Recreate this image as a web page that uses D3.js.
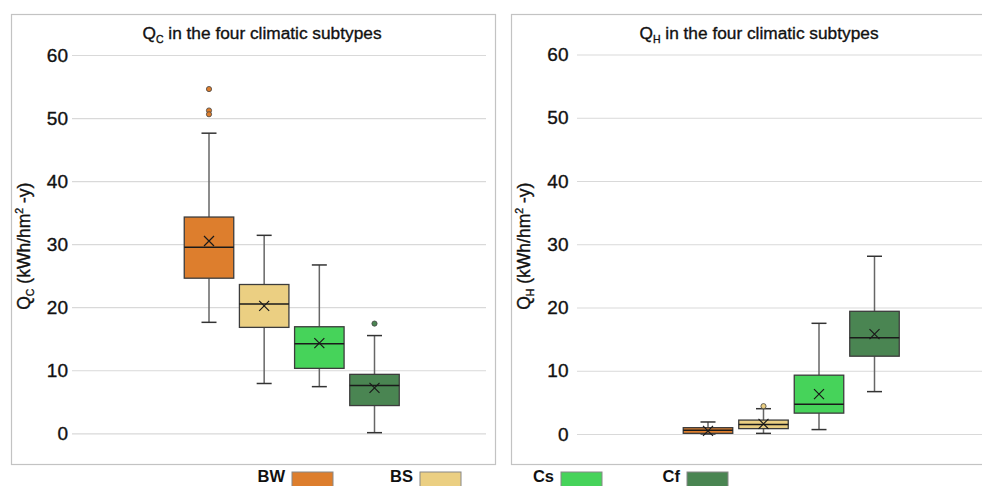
<!DOCTYPE html>
<html>
<head>
<meta charset="utf-8">
<script src="https://cdn.jsdelivr.net/npm/d3@7/dist/d3.min.js"></script>
<style>
  html, body { margin: 0; padding: 0; background: #fff; }
  svg { display: block; font-family: "Liberation Sans", Arial, Helvetica, sans-serif; }
</style>
</head>
<body>
<svg id="chart" width="982" height="486"></svg>
<script>
// ---------------- DATA ----------------
const categories = ["BW", "BS", "Cs", "Cf"];
const seriesColors = ["#DD7E2D", "#EBCF82", "#46D35A", "#4A8552"];
const yTicks = [0, 10, 20, 30, 40, 50, 60];

// Q_C (cooling) statistics per climatic subtype
const qcWhiskerLow  = [17.6,  7.9,  7.4,  0.1];
const qcQ1          = [24.6, 16.8, 10.3,  4.4];
const qcMedian      = [29.5, 20.5, 14.2,  7.6];
const qcQ3          = [34.3, 23.6, 16.9,  9.35];
const qcWhiskerHigh = [47.6, 31.4, 26.7, 15.5];
const qcMean        = [30.5, 20.2, 14.3,  7.2];
const qcOutliers    = [[54.6, 51.2, 50.6], [], [], [17.4]];

// Q_H (heating) statistics per climatic subtype
const qhWhiskerLow  = [0.0, 0.1,  0.7,  6.7];
const qhQ1          = [0.1, 0.85, 3.3, 12.3];
const qhMedian      = [0.6, 1.5,  4.7, 15.2];
const qhQ3          = [1.0, 2.2,  9.3, 19.4];
const qhWhiskerHigh = [1.9, 4.0, 17.5, 28.1];
const qhMean        = [0.5, 1.6,  6.3, 15.8];
const qhOutliers    = [[], [4.4], [], []];

// ---------------- DRAWING ----------------
const svg = d3.select("#chart");

function buildStats(lo, q1, med, q3, hi, mean, out) {
  return categories.map((c, i) => ({
    cat: c, color: seriesColors[i],
    lo: lo[i], q1: q1[i], med: med[i], q3: q3[i], hi: hi[i], mean: mean[i], out: out[i]
  }));
}

function heavy(sel) {
  return sel.attr("stroke", "#111").attr("stroke-width", 0.35).attr("paint-order", "stroke");
}

function drawPanel(opts) {
  const g = svg.append("g");
  // panel border
  g.append("rect")
    .attr("x", opts.frameX + 0.5).attr("y", 14.5)
    .attr("width", 484).attr("height", 450)
    .attr("fill", "none").attr("stroke", "#c3c3c3").attr("stroke-width", 1.2);

  const y = d3.scaleLinear().domain([0, 60]).range([opts.y0, opts.y60]);
  const x = d3.scalePoint().domain(categories).range([opts.xFirst, opts.xLast]);
  const boxW = 49.5, capW = 15;

  // axis + gridlines
  const axis = d3.axisLeft(y).tickValues(yTicks)
    .tickSize(-(opts.gridRight - opts.gridLeft)).tickPadding(opts.tickPad);
  const ag = g.append("g").attr("transform", `translate(${opts.gridLeft},0)`).call(axis);
  ag.select(".domain").remove();
  ag.selectAll(".tick line").attr("stroke", "#d9d9d9").attr("stroke-width", 1.2);
  heavy(ag.selectAll(".tick text")
    .attr("font-size", 19).attr("fill", "#111")
    .attr("font-family", "'Liberation Sans', Arial, sans-serif"));

  // title
  const t = heavy(g.append("text")
    .attr("x", opts.titleX).attr("y", 38.5)
    .attr("text-anchor", "middle").attr("font-size", 17.3).attr("fill", "#111"));
  t.append("tspan").text("Q");
  t.append("tspan").attr("font-size", 10.5).attr("dy", 4).text(opts.sub);
  t.append("tspan").attr("dy", -4).text(" in the four climatic subtypes");

  // y label
  const yl = heavy(g.append("text")
    .attr("transform", `translate(${opts.frameX + 19},${(opts.y0 + opts.y60) / 2 + 2}) rotate(-90)`)
    .attr("text-anchor", "middle").attr("font-size", 17.5).attr("fill", "#111"));
  yl.append("tspan").text("Q");
  yl.append("tspan").attr("font-size", 10.5).attr("dy", 4).text(opts.sub);
  yl.append("tspan").attr("dy", -4).text(" (kWh/hm");
  yl.append("tspan").attr("font-size", 10.5).attr("dy", -7).text("2");
  yl.append("tspan").attr("dy", 7).text(" -y)");

  const boxes = g.selectAll(".box").data(opts.stats).join("g")
    .attr("transform", d => `translate(${x(d.cat)},0)`);

  // whiskers
  boxes.append("line").attr("x1", 0).attr("x2", 0)
    .attr("y1", d => y(d.hi)).attr("y2", d => y(d.q3))
    .attr("stroke", "#666").attr("stroke-width", 1.5);
  boxes.append("line").attr("x1", 0).attr("x2", 0)
    .attr("y1", d => y(d.q1)).attr("y2", d => y(d.lo))
    .attr("stroke", "#666").attr("stroke-width", 1.5);
  boxes.append("line").attr("x1", -capW / 2).attr("x2", capW / 2)
    .attr("y1", d => y(d.hi)).attr("y2", d => y(d.hi))
    .attr("stroke", "#333").attr("stroke-width", 1.5);
  boxes.append("line").attr("x1", -capW / 2).attr("x2", capW / 2)
    .attr("y1", d => y(d.lo)).attr("y2", d => y(d.lo))
    .attr("stroke", "#333").attr("stroke-width", 1.5);

  // box
  boxes.append("rect")
    .attr("x", -boxW / 2).attr("width", boxW)
    .attr("y", d => y(d.q3)).attr("height", d => y(d.q1) - y(d.q3))
    .attr("fill", d => d.color).attr("stroke", "#3c3c3c").attr("stroke-width", 1.3);
  // median
  boxes.append("line").attr("x1", -boxW / 2).attr("x2", boxW / 2)
    .attr("y1", d => y(d.med)).attr("y2", d => y(d.med))
    .attr("stroke", "#1a1a1a").attr("stroke-width", 1.5);
  // mean X
  const m = 5;
  boxes.append("path")
    .attr("d", d => `M${-m},${y(d.mean) - m}L${m},${y(d.mean) + m}M${-m},${y(d.mean) + m}L${m},${y(d.mean) - m}`)
    .attr("stroke", "#1a1a1a").attr("stroke-width", 1.2).attr("fill", "none");
  // outliers
  boxes.each(function (d) {
    d3.select(this).selectAll("circle").data(d.out).join("circle")
      .attr("cx", 0).attr("cy", v => y(v)).attr("r", 2.6)
      .attr("fill", d.color).attr("stroke", "#444").attr("stroke-width", 0.8);
  });
}

drawPanel({
  frameX: 11, gridLeft: 72, gridRight: 486, tickPad: 4,
  y0: 433.3, y60: 55, xFirst: 209, xLast: 374.5, titleX: 262, sub: "C",
  stats: buildStats(qcWhiskerLow, qcQ1, qcMedian, qcQ3, qcWhiskerHigh, qcMean, qcOutliers)
});
drawPanel({
  frameX: 511, gridLeft: 577, gridRight: 990, tickPad: 8.5,
  y0: 434, y60: 54.5, xFirst: 708, xLast: 874.5, titleX: 759, sub: "H",
  stats: buildStats(qhWhiskerLow, qhQ1, qhMedian, qhQ3, qhWhiskerHigh, qhMean, qhOutliers)
});

// legend
const legendSwatchX = [292, 420, 561, 687];
const lg = svg.append("g").selectAll("g").data(categories).join("g")
  .attr("transform", (d, i) => `translate(${legendSwatchX[i]},0)`);
lg.append("rect").attr("x", 0).attr("y", 472).attr("width", 41).attr("height", 16)
  .attr("fill", (d, i) => seriesColors[i]).attr("stroke", "#888").attr("stroke-width", 1);
lg.append("text").attr("x", -7).attr("y", 482).attr("text-anchor", "end")
  .attr("font-size", 16.5).attr("font-weight", "bold").attr("fill", "#111")
  .text(d => d);
</script>
</body>
</html>
